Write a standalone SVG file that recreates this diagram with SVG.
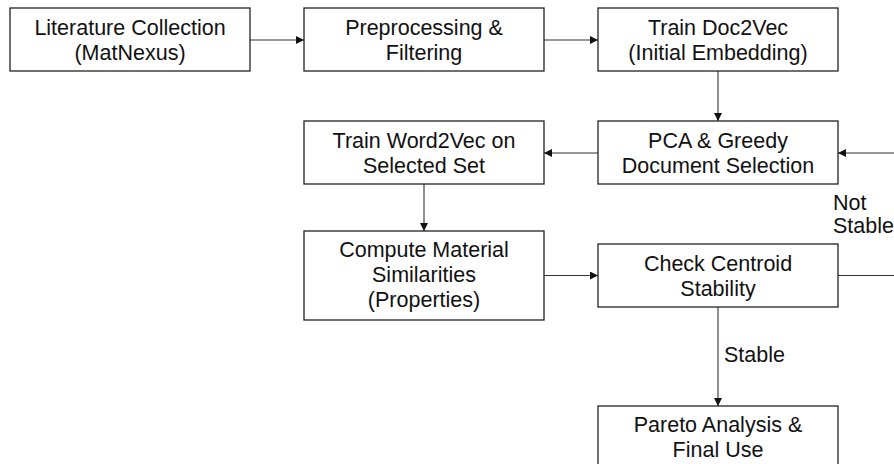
<svg xmlns="http://www.w3.org/2000/svg" width="894" height="464" viewBox="0 0 894 464">
<defs>
<style>
.box{fill:#fff;stroke:#222;stroke-width:1.3}
.t{font-family:"Liberation Sans",Arial,sans-serif;font-size:21.5px;fill:#111;text-anchor:middle}
.lbl{font-family:"Liberation Sans",Arial,sans-serif;font-size:21.5px;fill:#111}
.c{fill:none;stroke:#333;stroke-width:1.1}
</style>
<marker id="ah" markerWidth="8" markerHeight="8" refX="8" refY="4" orient="auto" markerUnits="userSpaceOnUse">
<path d="M0,0 L8,4 L0,8 Z" fill="#111"/>
</marker>
</defs>
<rect width="894" height="464" fill="#fff"/>
<g id="connectors">
<path class="c" d="M250,40 H304" marker-end="url(#ah)"/>
<path class="c" d="M544,40 H598" marker-end="url(#ah)"/>
<path class="c" d="M718,71 V121" marker-end="url(#ah)"/>
<path class="c" d="M598,153 H544" marker-end="url(#ah)"/>
<path class="c" d="M424,184 V231" marker-end="url(#ah)"/>
<path class="c" d="M544,275.5 H598" marker-end="url(#ah)"/>
<path class="c" d="M838,275.5 H910 V153 H838" marker-end="url(#ah)"/>
<path class="c" d="M718,307 V406" marker-end="url(#ah)"/>
<text class="lbl" x="833" y="210">Not</text>
<text class="lbl" x="833" y="233">Stable</text>
<text class="lbl" x="724" y="362">Stable</text>
</g>
<g id="n1"><rect class="box" x="10" y="8" width="240" height="63"/>
<text class="t" x="130" y="35">Literature Collection</text><text class="t" x="130" y="59.5">(MatNexus)</text></g>
<g id="n2"><rect class="box" x="304" y="8" width="240" height="63"/>
<text class="t" x="424" y="35">Preprocessing &amp;</text><text class="t" x="424" y="59.5">Filtering</text></g>
<g id="n3"><rect class="box" x="598" y="8" width="240" height="63"/>
<text class="t" x="718" y="35">Train Doc2Vec</text><text class="t" x="718" y="59.5">(Initial Embedding)</text></g>
<g id="n4"><rect class="box" x="598" y="121" width="240" height="63"/>
<text class="t" x="718" y="148">PCA &amp; Greedy</text><text class="t" x="718" y="172.5">Document Selection</text></g>
<g id="n5"><rect class="box" x="304" y="121" width="240" height="63"/>
<text class="t" x="424" y="148">Train Word2Vec on</text><text class="t" x="424" y="172.5">Selected Set</text></g>
<g id="n6"><rect class="box" x="304" y="231" width="240" height="89"/>
<text class="t" x="424" y="257">Compute Material</text><text class="t" x="424" y="282">Similarities</text><text class="t" x="424" y="307">(Properties)</text></g>
<g id="n7"><rect class="box" x="598" y="244" width="240" height="63"/>
<text class="t" x="718" y="271">Check Centroid</text><text class="t" x="718" y="295.5">Stability</text></g>
<g id="n8"><rect class="box" x="598" y="406" width="240" height="63"/>
<text class="t" x="718" y="432">Pareto Analysis &amp;</text><text class="t" x="718" y="456.5">Final Use</text></g>
</svg>
